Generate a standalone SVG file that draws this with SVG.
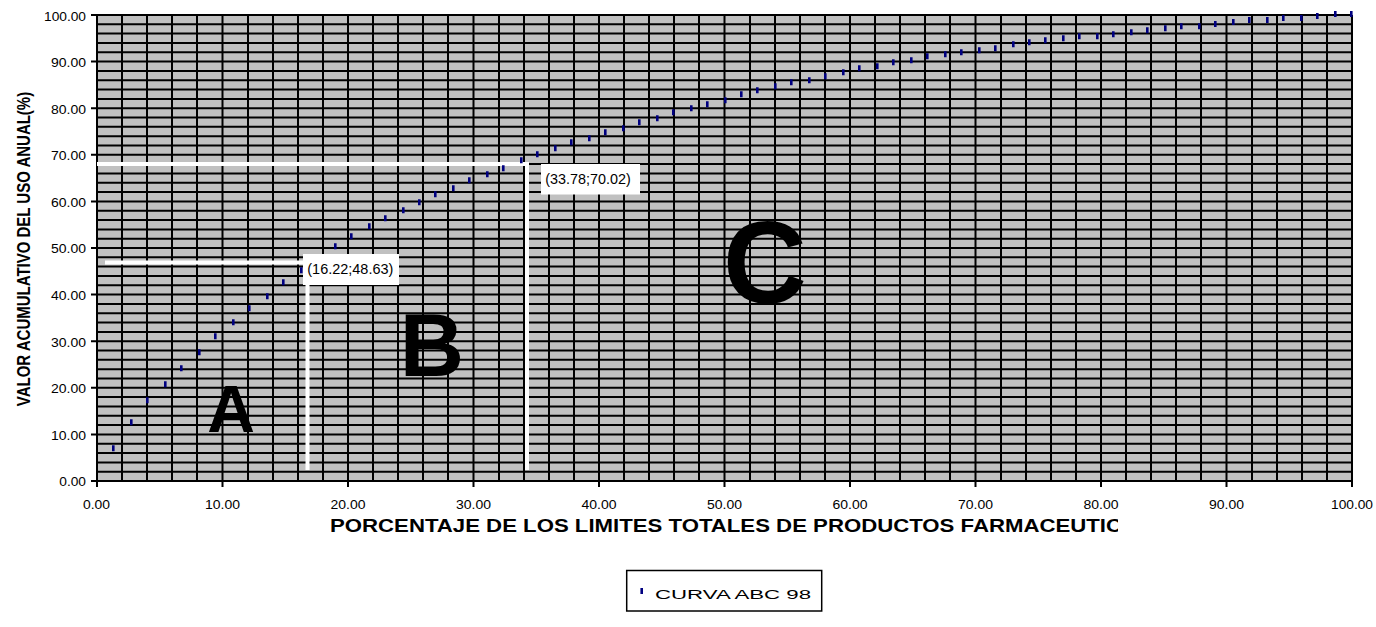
<svg xmlns="http://www.w3.org/2000/svg" width="1376" height="627" viewBox="0 0 1376 627">
<style>
.t{font-family:"Liberation Sans",Arial,sans-serif;font-size:12px;fill:#000}
.b{font-family:"Liberation Sans",Arial,sans-serif;font-weight:bold;fill:#000}
.lbl{font-family:"Liberation Sans",Arial,sans-serif;font-size:15px;fill:#000}
.grid{stroke:#000;stroke-width:2;fill:none}
.wl{stroke:#fff;stroke-width:4;fill:none}
.pt{stroke:#000080;stroke-width:2.6;fill:none}
</style>
<defs>
<clipPath id="tclip"><rect x="0" y="495" width="1118" height="70"/></clipPath>
</defs>
<rect width="1376" height="627" fill="#fff"/>
<g id="plot">
<rect x="97" y="15" width="1255" height="466" fill="#C0C0C0"/>
<path class="grid" d="M97 15V481M122 15V481M147 15V481M172 15V481M197 15V481M222.5 15V481M248 15V481M273 15V481M298 15V481M323 15V481M348 15V481M373 15V481M398 15V481M423 15V481M448 15V481M473.5 15V481M499 15V481M524 15V481M549 15V481M574 15V481M599 15V481M624 15V481M649 15V481M674 15V481M699 15V481M724.5 15V481M750 15V481M775 15V481M800 15V481M825 15V481M850 15V481M875 15V481M900 15V481M925 15V481M950 15V481M975.5 15V481M1001 15V481M1026 15V481M1051 15V481M1076 15V481M1101 15V481M1126 15V481M1151 15V481M1176 15V481M1201 15V481M1226.5 15V481M1252 15V481M1277 15V481M1302 15V481M1327 15V481M1352 15V481"/>
<path class="grid" d="M97 15H1352M97 24.3H1352M97 33.6H1352M97 43H1352M97 52.3H1352M97 61.6H1352M97 70.9H1352M97 80.2H1352M97 89.6H1352M97 98.9H1352M97 108.2H1352M97 117.5H1352M97 126.8H1352M97 136.2H1352M97 145.5H1352M97 154.8H1352M97 164.1H1352M97 173.4H1352M97 182.8H1352M97 192.1H1352M97 201.4H1352M97 210.7H1352M97 220H1352M97 229.4H1352M97 238.7H1352M97 248H1352M97 257.3H1352M97 266.6H1352M97 276H1352M97 285.3H1352M97 294.6H1352M97 303.9H1352M97 313.2H1352M97 322.6H1352M97 331.9H1352M97 341.2H1352M97 350.5H1352M97 359.8H1352M97 369.2H1352M97 378.5H1352M97 387.8H1352M97 397.1H1352M97 406.4H1352M97 415.8H1352M97 425.1H1352M97 434.4H1352M97 443.7H1352M97 453H1352M97 462.4H1352M97 471.7H1352M97 481H1352"/>
<path class="grid" d="M91 15H97M91 61.6H97M91 108.2H97M91 154.8H97M91 201.4H97M91 248H97M91 294.6H97M91 341.2H97M91 387.8H97M91 434.4H97M91 481H97M97 481V487M222.5 481V487M348 481V487M473.5 481V487M599 481V487M724.5 481V487M850 481V487M975.5 481V487M1101 481V487M1226.5 481V487M1352 481V487"/>
</g>
<g id="guides">
<path class="wl" d="M105 262.5H307.5V470M97 164H527V470"/>
</g>
<g id="series">
<path class="pt" d="M113.3 445.3v6M131.3 419.3v6M147.3 397.3v6M165.3 381.3v6M181.3 365.3v6M199.3 349.3v6M215.3 333.3v6M233.3 319.3v6M249.3 305.3v6M267.3 293.3v6M283.3 279.3v6M301.3 267.3v6M317.3 255v6M335.3 243.3v6M351.3 233.3v6M369.3 223.3v6M385.3 215.3v6M403.3 207.3v6M419.3 199.3v6M435.3 191.3v6M453.3 185.3v6M469.3 177.3v6M487.3 171.3v6M503.3 165.3v6M521.3 157.3v6M537.3 151.3v6M555.3 145.3v6M571.3 139.3v6M589.3 135.3v6M605.3 129.3v6M623.3 125.3v6M639.3 119.3v6M657.3 115.3v6M673.3 109.3v6M691.3 105.3v6M707.3 101.3v6M725.3 97.3v6M741.3 91.3v6M757.3 87.3v6M775.3 83.3v6M791.3 79.3v6M809.3 77.3v6M825.3 73.3v6M843.3 69.3v6M859.3 65.3v6M877.3 63.3v6M893.3 59.3v6M911.3 57.3v6M927.3 53.3v6M945.3 51.3v6M961.3 49.3v6M979.3 47.3v6M995.3 45.3v6M1013.3 41.3v6M1029.3 39.3v6M1045.3 37.3v6M1063.3 35.3v6M1079.3 33.3v6M1097.3 33.3v6M1113.3 31.3v6M1131.3 29.3v6M1147.3 27.3v6M1165.3 25.3v6M1181.3 23.3v6M1199.3 23.3v6M1215.3 21v6M1233.3 19v6M1249.3 17v6M1267.3 17v6M1283.3 15v6M1301.3 15v6M1317.3 13v6M1335.3 11v6M1351.3 11v6"/>
</g>
<g id="label1">
<rect x="303" y="254" width="96" height="31" fill="#fff"/>
<text class="lbl" x="307.3" y="273.5" textLength="86" lengthAdjust="spacingAndGlyphs">(16.22;48.63)</text>
</g>
<g id="label2">
<rect x="541" y="164" width="99" height="30.5" fill="#fff"/>
<text class="lbl" x="545.3" y="184" textLength="85.4" lengthAdjust="spacingAndGlyphs">(33.78;70.02)</text>
</g>
<g id="zones">
<text class="b" x="231" y="431.7" font-size="66" text-anchor="middle">A</text>
<text class="b" x="432" y="376" font-size="89" text-anchor="middle">B</text>
<text class="b" x="765" y="303" font-size="116" text-anchor="middle">C</text>
</g>
<g id="yticks">
<text class="t" x="44" y="20.5" textLength="42" lengthAdjust="spacingAndGlyphs">100.00</text>
<text class="t" x="51" y="67" textLength="35" lengthAdjust="spacingAndGlyphs">90.00</text>
<text class="t" x="51" y="113.5" textLength="35" lengthAdjust="spacingAndGlyphs">80.00</text>
<text class="t" x="51" y="160" textLength="35" lengthAdjust="spacingAndGlyphs">70.00</text>
<text class="t" x="51" y="206.5" textLength="35" lengthAdjust="spacingAndGlyphs">60.00</text>
<text class="t" x="51" y="253" textLength="35" lengthAdjust="spacingAndGlyphs">50.00</text>
<text class="t" x="51" y="300" textLength="35" lengthAdjust="spacingAndGlyphs">40.00</text>
<text class="t" x="51" y="346.5" textLength="35" lengthAdjust="spacingAndGlyphs">30.00</text>
<text class="t" x="51" y="393" textLength="35" lengthAdjust="spacingAndGlyphs">20.00</text>
<text class="t" x="51" y="439.5" textLength="35" lengthAdjust="spacingAndGlyphs">10.00</text>
<text class="t" x="59.3" y="486" textLength="26.7" lengthAdjust="spacingAndGlyphs">0.00</text>
</g>
<g id="xticks">
<text class="t" x="83" y="509" textLength="27" lengthAdjust="spacingAndGlyphs">0.00</text>
<text class="t" x="205" y="509" textLength="35" lengthAdjust="spacingAndGlyphs">10.00</text>
<text class="t" x="330.5" y="509" textLength="35" lengthAdjust="spacingAndGlyphs">20.00</text>
<text class="t" x="456" y="509" textLength="35" lengthAdjust="spacingAndGlyphs">30.00</text>
<text class="t" x="581.5" y="509" textLength="35" lengthAdjust="spacingAndGlyphs">40.00</text>
<text class="t" x="707" y="509" textLength="35" lengthAdjust="spacingAndGlyphs">50.00</text>
<text class="t" x="832.5" y="509" textLength="35" lengthAdjust="spacingAndGlyphs">60.00</text>
<text class="t" x="958" y="509" textLength="35" lengthAdjust="spacingAndGlyphs">70.00</text>
<text class="t" x="1083.5" y="509" textLength="35" lengthAdjust="spacingAndGlyphs">80.00</text>
<text class="t" x="1209" y="509" textLength="35" lengthAdjust="spacingAndGlyphs">90.00</text>
<text class="t" x="1331" y="509" textLength="42" lengthAdjust="spacingAndGlyphs">100.00</text>
</g>
<g id="ytitle">
<text class="b" font-size="15" text-anchor="middle" transform="translate(30 249) rotate(-90) scale(1 1.2)" x="0" y="0">VALOR ACUMULATIVO DEL USO ANUAL(%)</text>
</g>
<g id="xtitle" clip-path="url(#tclip)">
<text class="b" font-size="17.5" x="330" y="532" textLength="792" lengthAdjust="spacingAndGlyphs">PORCENTAJE DE LOS LIMITES TOTALES DE PRODUCTOS FARMACEUTIC</text>
</g>
<g id="legend">
<rect x="626.7" y="570.5" width="195" height="40.5" fill="#fff" stroke="#000" stroke-width="1.5"/>
<path class="pt" d="M641.7 588v6"/>
<text class="t" font-size="22" x="655" y="599" textLength="156" lengthAdjust="spacingAndGlyphs">CURVA ABC 98</text>
</g>
</svg>
